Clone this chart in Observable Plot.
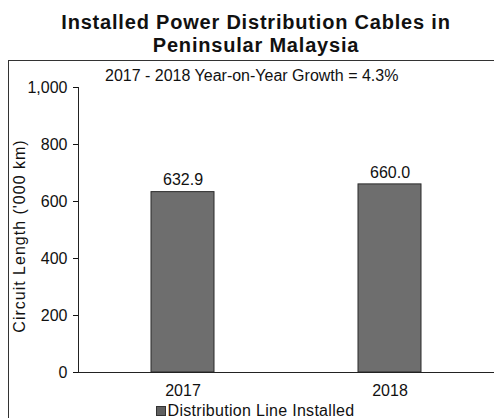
<!DOCTYPE html>
<html>
<head>
<meta charset="utf-8">
<script src="https://cdn.jsdelivr.net/npm/d3@7"></script>
<script src="https://cdn.jsdelivr.net/npm/@observablehq/plot@0.6"></script>
<style>
  html, body { margin: 0; padding: 0; background: #fff; }
  body { width: 494px; height: 418px; position: relative; overflow: hidden; font-family: "Liberation Sans", Arial, sans-serif; color: #111; }
  #title { position: absolute; left: 0; top: 11px; width: 512px; text-align: center; font-weight: bold; font-size: 20px; line-height: 23px; letter-spacing: 0.8px; }
  #frame { position: absolute; left: 8px; top: 60px; width: 490px; height: 370px; border-left: 1px solid #333; border-top: 1px solid #333; }
  #chart { position: absolute; left: 0; top: 60px; }
  #growth { position: absolute; left: 105px; top: 67px; font-size: 16px; }
  #legend { position: absolute; left: 0; top: 402px; width: 510px; text-align: center; font-size: 16px; line-height: 17px; letter-spacing: 0.3px; }
  #legend .sw { display: inline-block; width: 8px; height: 8px; background: #606060; border: 1px solid #333; margin-right: 2px; vertical-align: 0px; }
</style>
</head>
<body>
<div id="title">Installed Power Distribution Cables in<br>Peninsular Malaysia</div>
<div id="frame"></div>
<div id="chart"></div>
<div id="growth">2017 - 2018 Year-on-Year Growth = 4.3%</div>
<div id="legend"><span class="sw"></span>Distribution Line Installed</div>
<script>
const years = ["2017", "2018"];
const values = [632.9, 660.0];
const valueLabels = ["632.9", "660.0"];
const yTicks = [0, 200, 400, 600, 800, 1000];
const seriesName = "Distribution Line Installed";
const yLabel = "Circuit Length ('000 km)";

const data = years.map((y, i) => ({year: y, value: values[i], label: valueLabels[i]}));

const chart = Plot.plot({
  width: 494,
  height: 340,
  marginTop: 27,
  marginBottom: 28,
  marginLeft: 78,
  marginRight: 0,
  style: {fontFamily: "'Liberation Sans', Arial, sans-serif", fontSize: "16px", color: "#111", background: "transparent"},
  x: {domain: years, paddingInner: 0.697, paddingOuter: 0.349, label: null},
  y: {domain: [0, 1000], label: null},
  marks: [
    Plot.barY(data, {x: "year", y: "value", fill: "#6e6e6e", stroke: "#2a2a2a", strokeWidth: 1}),
    Plot.text(data, {x: "year", y: "value", text: "label", dy: -12, fontSize: 16, fill: "#111"}),
    Plot.ruleY([0], {stroke: "#222"}),
    Plot.axisY({ticks: yTicks, tickFormat: d3.format(","), tickSize: 5, tickPadding: 6, fontSize: 16, label: null}),
    Plot.frame({anchor: "left", stroke: "#222"}),
    Plot.axisX({tickSize: 0, tickPadding: 12, fontSize: 16, label: null}),
    Plot.text([yLabel], {frameAnchor: "left", dx: -59, dy: 6, rotate: -90, textAnchor: "middle", text: d => d, fontSize: 16, fill: "#111"})
  ]
});
chart.querySelectorAll("text").forEach(t => { if (t.textContent === yLabel) t.setAttribute("letter-spacing", "1"); });
document.getElementById("chart").appendChild(chart);
</script>
</body>
</html>
